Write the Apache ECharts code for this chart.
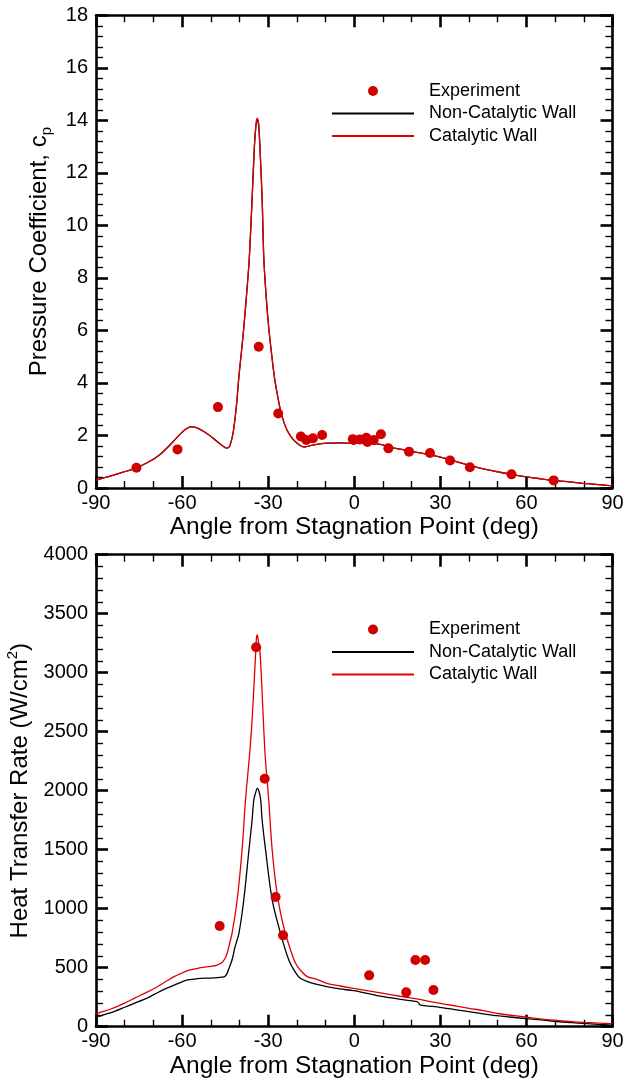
<!DOCTYPE html>
<html><head><meta charset="utf-8">
<script src="https://cdn.jsdelivr.net/npm/echarts@6/dist/echarts.min.js"></script>
<style>html,body{margin:0;padding:0;background:#fff}#c{width:625px;height:1080px}</style>
</head><body><div id="c"></div>
<script>
// ---- Top chart: pressure coefficient ----
const cpExpAngle = [-75.9,-61.6,-47.5,-33.3,-26.5,-18.6,-16.7,-14.4,-11.2,-0.5,1.9,4.2,4.6,6.8,9.3,11.9,19.1,26.4,33.4,40.3,54.8,69.5];
const cpExpValue = [0.77,1.47,3.08,5.38,2.84,1.96,1.83,1.89,2.02,1.86,1.85,1.91,1.75,1.83,2.05,1.51,1.38,1.33,1.05,0.79,0.52,0.29];

const cpNonCatAngle = [-90,-85,-80,-76,-72,-68,-65,-62,-59,-57,-55,-52,-49,-46,-44.5,-43.5,-42.5,-41.9,-41,-40.2,-39.3,-38.5,-37.5,-36.6,-35.6,-34.8,-34.2,-33.8,-33.3,-32.8,-32.1,-31.5,-30.6,-29.8,-28.8,-27.8,-26.7,-25.7,-24.5,-23.4,-22,-20.5,-19,-18,-17,-15,-12,-9,-5,-1,0,0.5,4,8,10,12,16,19.4,23,26.4,30,33.4,37,40.3,45,50.7,55,60,65,69.3,75,79.7,85,90];
const cpNonCatValue = [0.30,0.45,0.62,0.77,0.97,1.25,1.55,1.90,2.22,2.33,2.30,2.12,1.88,1.62,1.52,1.58,1.95,2.33,3.20,4.24,5.20,6.10,7.40,8.70,11.0,13.0,13.85,14.02,13.8,12.8,11.0,8.7,7.15,6.1,5.1,4.2,3.5,2.95,2.5,2.2,1.95,1.76,1.63,1.58,1.57,1.62,1.68,1.71,1.72,1.70,1.66,1.70,1.70,1.68,1.64,1.56,1.48,1.40,1.34,1.27,1.18,1.08,0.96,0.85,0.73,0.60,0.51,0.42,0.35,0.29,0.23,0.18,0.13,0.08];
const cpCatAngle = cpNonCatAngle;
const cpCatValue = [0.30,0.45,0.62,0.77,0.97,1.25,1.55,1.90,2.22,2.33,2.30,2.12,1.88,1.62,1.52,1.58,1.95,2.33,3.20,4.24,5.20,6.10,7.40,8.70,11.0,13.0,13.9,14.08,13.85,12.8,11.0,8.7,7.15,6.1,5.1,4.2,3.5,2.95,2.5,2.2,1.95,1.76,1.63,1.58,1.57,1.62,1.68,1.71,1.72,1.70,1.66,1.70,1.70,1.68,1.64,1.56,1.48,1.40,1.34,1.27,1.18,1.08,0.96,0.85,0.73,0.60,0.51,0.42,0.35,0.29,0.23,0.18,0.13,0.08];

// ---- Bottom chart: heat transfer rate ----
const qExpAngle = [-46.9,-34.2,-31.2,-27.4,-24.8,5.2,18.1,21.3,24.7,27.6];
const qExpValue = [853,3215,2102,1099,774,435,291,565,565,311];

const qNonCatAngle = [-90,-89.4,-84.8,-80,-76.7,-72,-68.6,-65.5,-62.8,-60,-58.1,-55,-53.5,-50,-46,-45,-44.3,-43.5,-42.6,-41.5,-40.2,-38.5,-36.7,-35.6,-35.0,-34.3,-33.8,-33.2,-32.6,-32.1,-30.9,-28.6,-25.7,-22.8,-20.5,-18.8,-15.3,-11.8,-9.5,-5,-0.2,5,10.2,16,21.8,22.5,22.9,26,29.9,35,41.5,46,50.7,55,60,66,71.6,76,79.7,85,90];
const qNonCatValue = [80,85,119,165,198,245,288,325,353,380,396,406,410,412,420,428,452,505,565,680,791,1074,1497,1752,1921,1990,2020,1995,1921,1752,1497,1074,791,565,460,410,373,353,339,320,305,280,254,232,212,200,184,175,164,145,122,105,91,80,68,55,42,34,28,20,13];

const qCatAngle = [-90,-89.4,-84.8,-80,-76.7,-72,-68.6,-65.5,-62.8,-60,-58.1,-55,-53.5,-50,-48,-46.6,-46,-45,-44.3,-43.5,-42.6,-40.8,-39.1,-37.9,-36.5,-35.6,-34.5,-34.1,-33.8,-33.5,-32.8,-31.1,-29.8,-28.6,-26.9,-24.6,-22.2,-20.5,-18.8,-16.4,-13,-9.5,-5,-0.2,5,10.2,16,21.8,27,33.4,40,45,50,56.6,62,68.2,74,79.7,85,90];
const qCatValue = [105,113,150,200,240,295,339,385,424,455,475,492,500,512,520,537,545,580,622,700,791,1074,1497,1921,2300,2600,3100,3290,3320,3280,3164,2317,1921,1497,1130,847,650,540,480,424,401,367,345,325,304,283,258,235,210,184,156,136,112,91,74,57,46,37,31,26];

const xTickMin = -90, xTickMax = 90, xTickStep = 30;
const cpMin = 0, cpMax = 18, cpStep = 2;
const qMin = 0, qMax = 4000, qStep = 500;

const FONT = '"Liberation Sans", Arial, Helvetica, sans-serif';
const RED_DOT = '#d00000', RED_LINE = '#dd0000';
const zip = (a, b) => a.map((v, i) => [v, b[i]]);
const plain = v => String(v);

function xAxis(grid, pos, labels) {
  return {
    type: 'value', gridIndex: grid, position: pos, min: xTickMin, max: xTickMax, interval: xTickStep,
    axisLine: {show: true, onZero: false, lineStyle: {color: '#000', width: 2.6}},
    axisTick: {show: true, inside: true, length: 12, lineStyle: {color: '#000', width: 2.6}},
    minorTick: {show: true, splitNumber: 3, length: 7, lineStyle: {color: '#000', width: 1.4}},
    splitLine: {show: false}, minorSplitLine: {show: false},
    axisLabel: {show: labels, margin: 5, color: '#000', fontSize: 20, fontFamily: FONT, formatter: plain},
    name: labels ? 'Angle from Stagnation Point (deg)' : '',
    nameLocation: 'middle', nameGap: 27,
    nameTextStyle: {color: '#000', fontSize: 24.5, fontFamily: FONT}
  };
}
function yAxis(grid, pos, labels, min, max, step, name, rich, gap) {
  return {
    type: 'value', gridIndex: grid, position: pos, min: min, max: max, interval: step,
    axisLine: {show: true, onZero: false, lineStyle: {color: '#000', width: 2.6}},
    axisTick: {show: true, inside: true, length: 12, lineStyle: {color: '#000', width: 2.6}},
    minorTick: {show: true, splitNumber: 5, length: 7, lineStyle: {color: '#000', width: 1.4}},
    splitLine: {show: false}, minorSplitLine: {show: false},
    axisLabel: {show: labels, margin: 8, color: '#000', fontSize: 20, fontFamily: FONT, formatter: plain},
    name: labels ? name : '', nameLocation: 'middle', nameGap: gap, nameRotate: 90,
    nameTextStyle: {color: '#000', fontSize: 24, fontFamily: FONT, rich: rich}
  };
}
const subRich = {
  a: {fontSize: 24, fontFamily: FONT, color: '#000', lineHeight: 30, verticalAlign: 'middle'},
  s: {fontSize: 15, fontFamily: FONT, color: '#000', lineHeight: 15, verticalAlign: 'bottom'}
};
const supRich = {
  a: {fontSize: 24, fontFamily: FONT, color: '#000', lineHeight: 30, verticalAlign: 'middle'},
  s: {fontSize: 15, fontFamily: FONT, color: '#000', lineHeight: 15, verticalAlign: 'top'}
};

function legend(top) {
  return {
    left: 326, top: top, orient: 'vertical', itemWidth: 82, itemHeight: 10, itemGap: 4.5,
    textStyle: {color: '#000', fontSize: 18, fontFamily: FONT, padding: [0, 0, 0, 10]},
    data: [
      {name: 'Experiment'},
      {name: 'Non-Catalytic Wall', itemStyle: {opacity: 0}},
      {name: 'Catalytic Wall', itemStyle: {opacity: 0}}
    ],
    selectedMode: false
  };
}

const chart = echarts.init(document.getElementById('c'), null, {renderer: 'canvas'});
chart.setOption({
  backgroundColor: '#fff',
  animation: false,
  grid: [
    {left: 96, top: 15.3, width: 516.5, height: 472.7, outerBoundsMode: 'none', containLabel: false},
    {left: 96, top: 554.7, width: 516.5, height: 472, outerBoundsMode: 'none', containLabel: false}
  ],
  legend: [legend(77), legend(615.5)],
  xAxis: [xAxis(0, 'bottom', true), xAxis(0, 'top', false), xAxis(1, 'bottom', true), xAxis(1, 'top', false)],
  yAxis: [
    yAxis(0, 'left', true, cpMin, cpMax, cpStep, '{a|Pressure Coefficient, c}{s|p}', subRich, 41),
    yAxis(0, 'right', false, cpMin, cpMax, cpStep, '', null, 0),
    yAxis(1, 'left', true, qMin, qMax, qStep, '{a|Heat Transfer Rate (W/cm}{s|2}{a|)}', supRich, 57),
    yAxis(1, 'right', false, qMin, qMax, qStep, '', null, 0)
  ],
  series: [
    {name: 'Experiment', type: 'scatter', xAxisIndex: 0, yAxisIndex: 0, data: zip(cpExpAngle, cpExpValue),
     symbol: 'circle', symbolSize: 10, itemStyle: {color: RED_DOT, opacity: 1}, z: 5},
    {name: 'Non-Catalytic Wall', type: 'line', xAxisIndex: 0, yAxisIndex: 0, data: zip(cpNonCatAngle, cpNonCatValue),
     symbol: 'none', smooth: 0.3, lineStyle: {color: '#000', width: 1.3}, itemStyle: {color: '#000'}, z: 3},
    {name: 'Catalytic Wall', type: 'line', xAxisIndex: 0, yAxisIndex: 0, data: zip(cpCatAngle, cpCatValue),
     symbol: 'none', smooth: 0.3, lineStyle: {color: RED_LINE, width: 1.3}, itemStyle: {color: RED_LINE}, z: 4},
    {name: 'Experiment', type: 'scatter', xAxisIndex: 2, yAxisIndex: 2, data: zip(qExpAngle, qExpValue),
     symbol: 'circle', symbolSize: 10, itemStyle: {color: RED_DOT, opacity: 1}, z: 5},
    {name: 'Non-Catalytic Wall', type: 'line', xAxisIndex: 2, yAxisIndex: 2, data: zip(qNonCatAngle, qNonCatValue),
     symbol: 'none', smooth: 0.3, lineStyle: {color: '#000', width: 1.3}, itemStyle: {color: '#000'}, z: 3},
    {name: 'Catalytic Wall', type: 'line', xAxisIndex: 2, yAxisIndex: 2, data: zip(qCatAngle, qCatValue),
     symbol: 'none', smooth: 0.3, lineStyle: {color: RED_LINE, width: 1.3}, itemStyle: {color: RED_LINE}, z: 4}
  ]
});
</script></body></html>
